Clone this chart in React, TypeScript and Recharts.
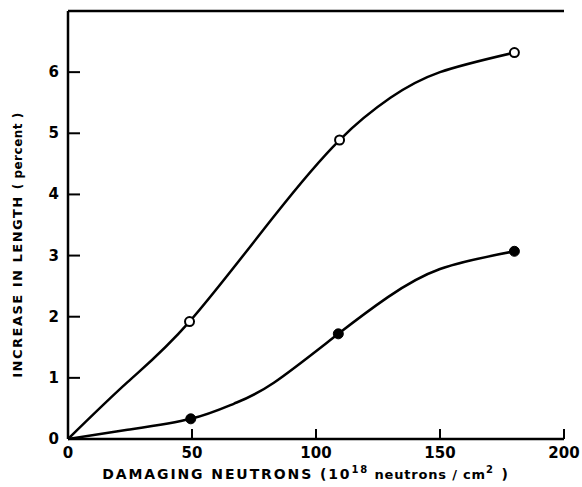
import { ComposedChart, Line, Scatter, XAxis, YAxis, ReferenceLine } from "recharts";

// curves as drawn in the figure
const openCurve = [
    { x: 0, y: 0 }, { x: 24, y: 0.93 }, { x: 49, y: 1.92 }, { x: 83, y: 3.64 },
    { x: 109.5, y: 4.89 }, { x: 130, y: 5.58 }, { x: 150, y: 6.0 }, { x: 180, y: 6.32 },
];
const filledCurve = [
    { x: 0, y: 0 }, { x: 24, y: 0.15 }, { x: 49.5, y: 0.33 }, { x: 67, y: 0.58 },
    { x: 83, y: 0.92 }, { x: 109, y: 1.72 }, { x: 129, y: 2.32 },
    { x: 150, y: 2.78 }, { x: 180, y: 3.07 },
];

// measured points
const openPoints = [{ x: 49, y: 1.92 }, { x: 109.5, y: 4.89 }, { x: 180, y: 6.32 }];
const filledPoints = [{ x: 49.5, y: 0.33 }, { x: 109, y: 1.72 }, { x: 180, y: 3.07 }];

const xTicks = [0, 50, 100, 150, 200];
const yTicks = [0, 1, 2, 3, 4, 5, 6];

const FONT = "'DejaVu Sans', sans-serif";

function XTick({ x, y, payload }: any) {
    return (
        <g>
            <line x1={x} y1={y} x2={x} y2={y - 10} stroke="#000" strokeWidth={2} />
            <text x={x} y={y + 19} textAnchor="middle" fontFamily={FONT} fontWeight="bold" fontSize={15} fill="#000">
                {payload.value}
            </text>
        </g>
    );
}

function YTick({ x, y, payload }: any) {
    return (
        <g>
            <line x1={x} y1={y} x2={x + 12} y2={y} stroke="#000" strokeWidth={2} />
            <text x={x - 9} y={y + 5} textAnchor="end" fontFamily={FONT} fontWeight="bold" fontSize={15} fill="#000">
                {payload.value}
            </text>
        </g>
    );
}

function RightTick({ x, y }: any) {
    return <line x1={x} y1={y} x2={x - 10} y2={y} stroke="#000" strokeWidth={2} />;
}

function OpenDot({ cx, cy }: any) {
    return <circle cx={cx} cy={cy} r={4.5} fill="#fff" stroke="#000" strokeWidth={2} />;
}

function FilledDot({ cx, cy }: any) {
    return <circle cx={cx} cy={cy} r={5} fill="#000" stroke="#000" strokeWidth={1} />;
}

export default function App() {
    return (
        <div style={{ position: "absolute", left: 0, top: 0, background: "#fff" }}>
            <ComposedChart width={582} height={487} margin={{ top: 11, right: 18, bottom: 18, left: 38 }}>
                <XAxis
                    dataKey="x"
                    type="number"
                    domain={[0, 200]}
                    ticks={xTicks}
                    height={30}
                    tickSize={0}
                    tickMargin={0}
                    tickLine={false}
                    axisLine={{ stroke: "#000", strokeWidth: 2.5 }}
                    tick={<XTick />}
                    allowDataOverflow
                />
                <YAxis
                    yAxisId="l"
                    type="number"
                    domain={[0, 7]}
                    ticks={yTicks}
                    width={30}
                    tickSize={0}
                    tickMargin={0}
                    tickLine={false}
                    axisLine={{ stroke: "#000", strokeWidth: 2.5 }}
                    tick={<YTick />}
                />
                <YAxis
                    yAxisId="r"
                    orientation="right"
                    type="number"
                    domain={[0, 7]}
                    ticks={yTicks.slice(1)}
                    width={0}
                    tickSize={0}
                    tickMargin={0}
                    tickLine={false}
                    axisLine={{ stroke: "#000", strokeWidth: 2.5 }}
                    tick={<RightTick />}
                />
                <ReferenceLine yAxisId="l" y={7} stroke="#000" strokeWidth={2.5} />
                <Line yAxisId="l" data={openCurve} dataKey="y" type="natural" stroke="#000" strokeWidth={2.5} dot={false} isAnimationActive={false} />
                <Line yAxisId="l" data={filledCurve} dataKey="y" type="natural" stroke="#000" strokeWidth={2.5} dot={false} isAnimationActive={false} />
                <Scatter yAxisId="l" data={openPoints} dataKey="y" shape={<OpenDot />} isAnimationActive={false} />
                <Scatter yAxisId="l" data={filledPoints} dataKey="y" shape={<FilledDot />} isAnimationActive={false} />
                <text x={306} y={479} textAnchor="middle" fontFamily={FONT} fontWeight="bold" fontSize={14} fill="#000" letterSpacing={1.9}>
                    DAMAGING  NEUTRONS  (10
                    <tspan fontSize={10} dy={-6}>18</tspan>
                    <tspan fontSize={13} dy={6} letterSpacing={0.8}> neutrons / cm</tspan>
                    <tspan fontSize={10} dy={-6}>2</tspan>
                    <tspan dy={6}> )</tspan>
                </text>
                <text
                    x={0}
                    y={0}
                    transform="translate(22, 245) rotate(-90)"
                    textAnchor="middle"
                    fontFamily={FONT}
                    fontWeight="bold"
                    fontSize={13}
                    fill="#000"
                    letterSpacing={1.5}
                >
                    INCREASE  IN  LENGTH  <tspan fontSize={12} letterSpacing={0.5}>( percent )</tspan>
                </text>
            </ComposedChart>
        </div>
    );
}
